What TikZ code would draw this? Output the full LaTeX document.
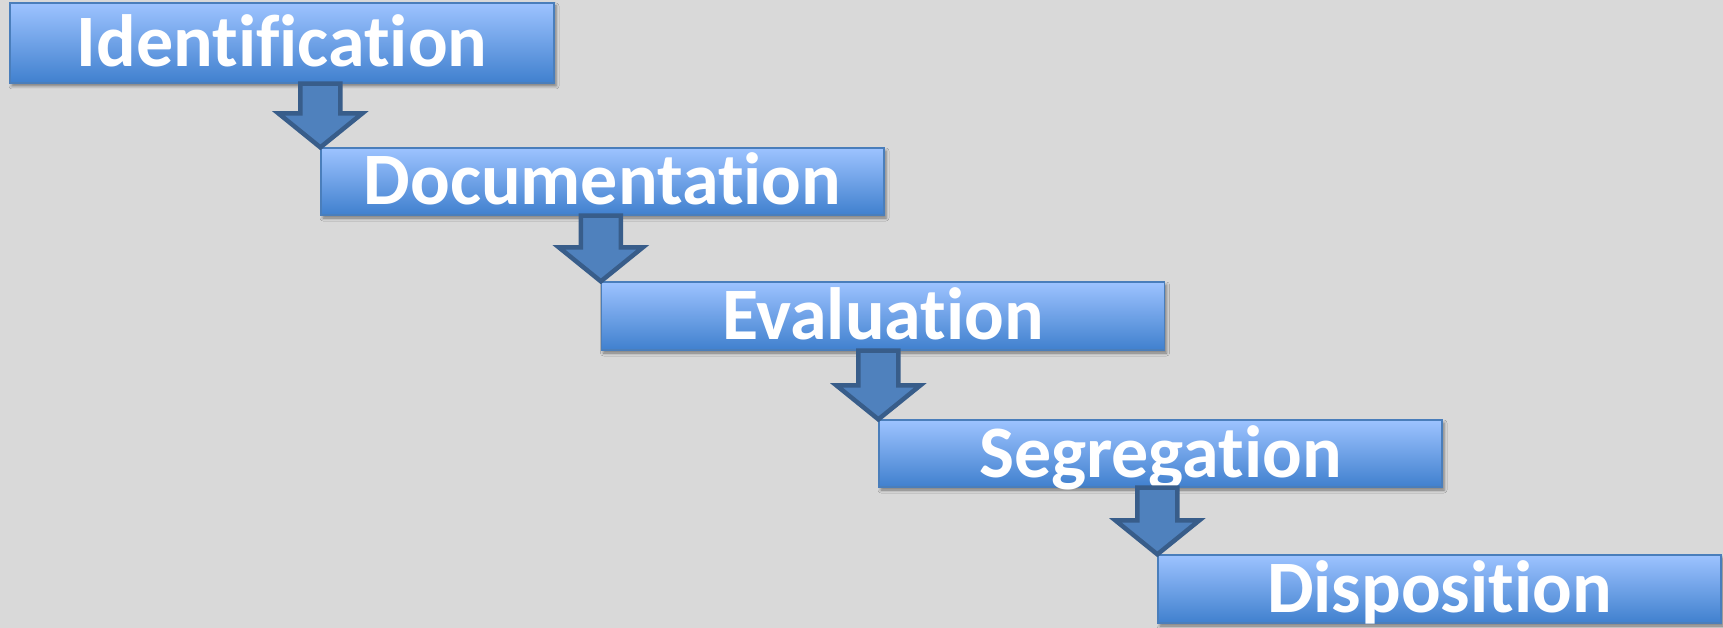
\documentclass[tikz,border=0pt]{standalone}
\usepackage{fontspec}
\setmainfont{Carlito}[Ligatures={NoCommon,NoRare}]
\usetikzlibrary{calc,shadows.blur}

\definecolor{canvasgray}{RGB}{217,217,217}
\definecolor{boxtop}{RGB}{157,195,255}
\definecolor{boxmid}{RGB}{122,168,238}
\definecolor{boxbot}{RGB}{64,128,206}
\definecolor{boxline}{RGB}{74,126,187}
\definecolor{arrowfill}{RGB}{79,129,189}
\definecolor{arrowline}{RGB}{56,93,138}

\tikzset{
  stagebox/.style={
    rectangle, draw=boxline, line width=1.3pt,
    top color=boxtop, middle color=boxmid, bottom color=boxbot,
    minimum width=563pt, minimum height=67pt,
    inner sep=0pt, text=white,
    font=\fontsize{74}{74}\selectfont\bfseries,
    text height=47pt, text depth=0pt,
    blur shadow={shadow xshift=2pt, shadow yshift=-3pt,
                 shadow blur radius=3pt, shadow opacity=45}
  },
  fatarrow/.style={fill=arrowfill, draw=arrowline, line width=4.5pt,
                   line join=miter}
}

% block arrow from the bottom of one stage to the top-left corner of the next
\newcommand{\stagearrow}[2]{%
  \draw[fatarrow] let \p1=(#2.north west), \p2=(#1.south) in
    (\x1-20pt,\y2) -- (\x1+20pt,\y2) -- (\x1+20pt,\y1+34pt)
    -- (\x1+42pt,\y1+34pt) -- (\x1,\y1) -- (\x1-42pt,\y1+34pt)
    -- (\x1-20pt,\y1+34pt) -- cycle;}

\begin{document}
\begin{tikzpicture}[x=1pt,y=-1pt]
  \fill[canvasgray] (0,0) rectangle (1723,628);
  \useasboundingbox (0,0) rectangle (1723,628);

  \node[stagebox, minimum width=544pt, minimum height=80pt] (b1) at (282,43) {Identification};
  \node[stagebox] (b2) at (602.5,181.5) {Documentation};
  \stagearrow{b1}{b2}
  \node[stagebox, minimum height=68pt] (b3) at (883,316) {Evaluation};
  \stagearrow{b2}{b3}
  \node[stagebox] (b4) at (1160.5,453.5) {Segregation};
  \stagearrow{b3}{b4}
  \node[stagebox, minimum height=68pt] (b5) at (1439.5,589) {Disposition};
  \stagearrow{b4}{b5}
\end{tikzpicture}
\end{document}
